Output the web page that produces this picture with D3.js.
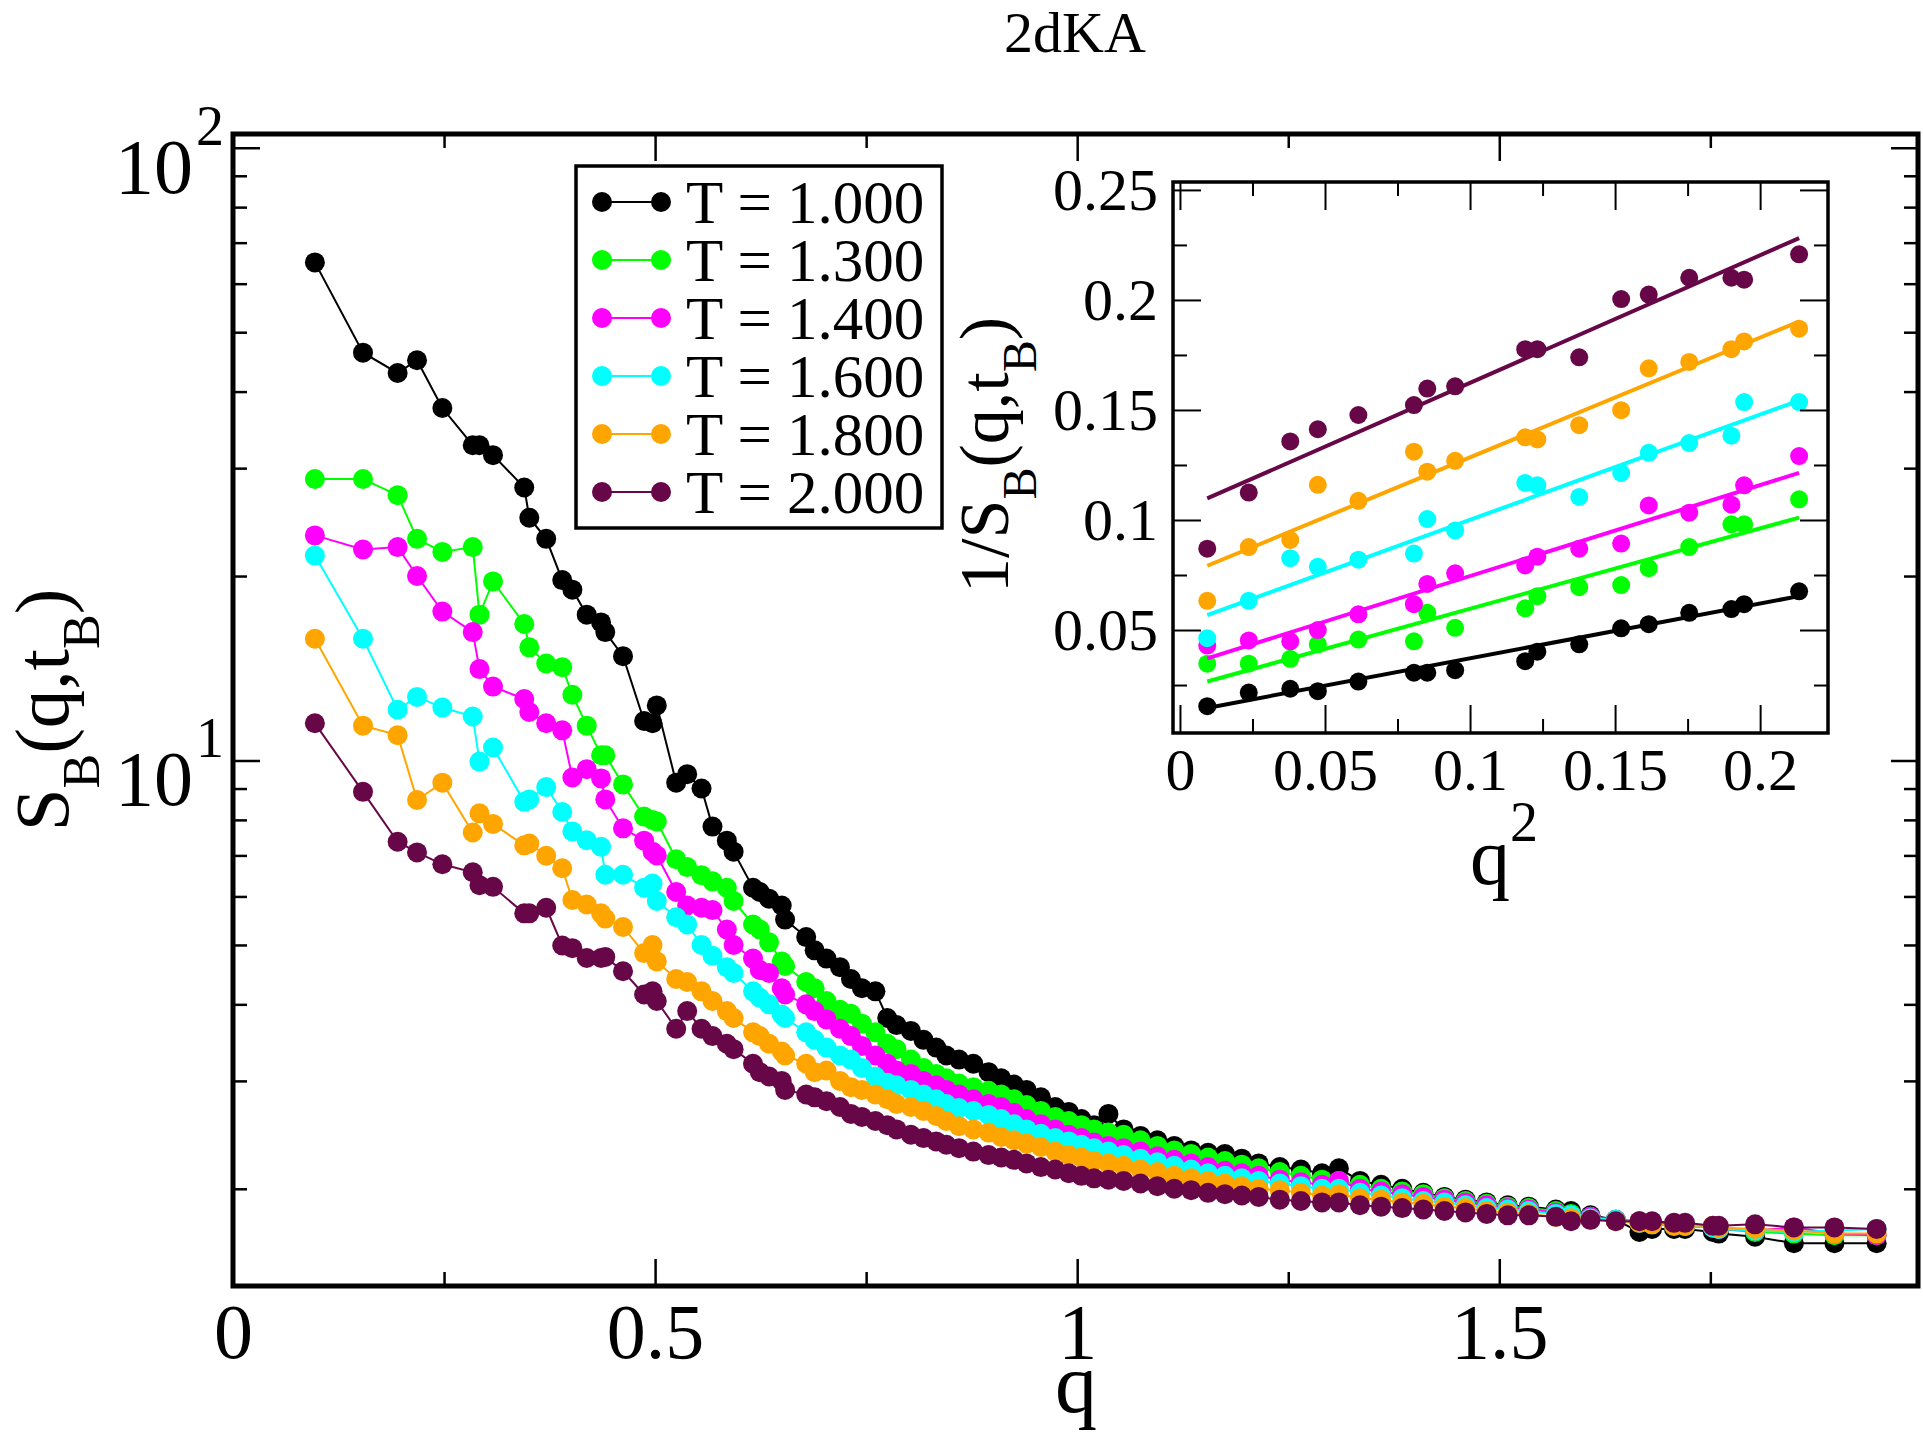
<!DOCTYPE html>
<html lang="en">
<head>
<meta charset="UTF-8">
<title>2dKA</title>
<script src="https://d3js.org/d3.v7.min.js"></script>
<style>
  body { margin: 0; background: #fff; }
  text { font-family: "Liberation Serif", "DejaVu Serif", serif; fill: #000; }
</style>
</head>
<body>
<svg id="chart" width="1923" height="1434"></svg>
<script>
// wave vectors (shared by all temperatures)
const qVals = [
  0.097, 0.154, 0.195, 0.218, 0.248, 0.284, 0.292, 0.308, 0.345, 0.351, 0.371, 0.390, 0.402, 0.419, 0.436, 0.441, 0.462,
  0.487, 0.497, 0.502, 0.525, 0.538, 0.555, 0.568, 0.585, 0.593, 0.616,
  0.624, 0.635, 0.650, 0.654, 0.679, 0.689, 0.703, 0.719, 0.732, 0.745,
  0.761, 0.775, 0.786, 0.803, 0.818, 0.833, 0.845, 0.860, 0.877, 0.895,
  0.910, 0.925, 0.940, 0.957, 0.974, 0.990, 1.005, 1.020, 1.037, 1.055,
  1.075, 1.095, 1.115, 1.135, 1.155, 1.175, 1.195, 1.215, 1.240, 1.265,
  1.290, 1.310, 1.335, 1.360, 1.385, 1.410, 1.435, 1.460, 1.485, 1.510,
  1.535, 1.567, 1.585, 1.608, 1.638, 1.666, 1.681, 1.707, 1.720, 1.753,
  1.760, 1.803, 1.849, 1.897, 1.947
];

const labels = ["T = 1.000", "T = 1.300", "T = 1.400", "T = 1.600", "T = 1.800", "T = 2.000"];
const colors = ["#000000", "#00ff00", "#ff00ff", "#00ffff", "#ffa500", "#670748"];

const sT100 = [
  65.0, 46.3, 42.9, 45.0, 37.6, 32.7, 32.7, 31.5, 27.9, 24.9, 23.0, 19.7, 19.0, 17.3, 16.8, 16.2, 14.8,
  11.6, 11.5, 12.3, 9.2, 9.5, 9.0, 7.8, 7.4, 7.1, 6.2,
  6.1, 5.95, 5.8, 5.5, 5.15, 4.9, 4.75, 4.6, 4.4, 4.25,
  4.2, 3.8, 3.7, 3.62, 3.5, 3.4, 3.3, 3.25, 3.2, 3.1,
  3.03, 2.96, 2.9, 2.82, 2.72, 2.67, 2.6, 2.54, 2.65, 2.5,
  2.44, 2.4, 2.35, 2.31, 2.29, 2.28, 2.24, 2.2, 2.17, 2.15,
  2.12, 2.16, 2.06, 2.03, 2.0, 1.97, 1.94, 1.92, 1.9, 1.88,
  1.87, 1.85, 1.84, 1.81, 1.78, 1.70, 1.72, 1.72, 1.72, 1.70,
  1.69, 1.67, 1.63, 1.63, 1.63
];
const sT130 = [
  28.8, 28.8, 27.1, 23.0, 21.9, 22.3, 17.3, 19.6, 16.7, 15.3, 14.4, 14.2, 12.8, 11.4, 10.2, 10.2, 9.14,
  8.1, 8.0, 7.95, 6.9, 6.7, 6.5, 6.35, 6.2, 5.9, 5.4,
  5.3, 5.05, 4.7, 4.62, 4.35, 4.25, 4.05, 3.92, 3.86, 3.72,
  3.6, 3.45, 3.38, 3.25, 3.15, 3.08, 3.03, 2.97, 2.93, 2.89,
  2.85, 2.8, 2.74, 2.68, 2.62, 2.58, 2.54, 2.5, 2.47, 2.45,
  2.4, 2.35, 2.31, 2.28, 2.25, 2.22, 2.19, 2.16, 2.13, 2.1,
  2.07, 2.06, 2.03, 2.0, 1.98, 1.96, 1.93, 1.91, 1.89, 1.87,
  1.86, 1.84, 1.82, 1.8, 1.78, 1.77, 1.76, 1.75, 1.74, 1.73,
  1.72, 1.7, 1.69, 1.68, 1.68
];
const sT140 = [
  23.3, 22.1, 22.3, 20.0, 17.5, 16.2, 14.1, 13.2, 12.6, 12.0, 11.5, 11.2, 9.38, 9.68, 9.35, 8.64, 7.75,
  7.4, 7.1, 7.0, 6.1, 5.8, 5.75, 5.7, 5.3, 5.0, 4.75,
  4.55, 4.5, 4.25, 4.15, 4.0, 3.9, 3.78, 3.65, 3.55, 3.42,
  3.3, 3.2, 3.12, 3.08, 3.0, 2.95, 2.9, 2.85, 2.8, 2.75,
  2.72, 2.66, 2.6, 2.55, 2.5, 2.45, 2.42, 2.38, 2.35, 2.33,
  2.3, 2.26, 2.23, 2.2, 2.17, 2.14, 2.12, 2.1, 2.07, 2.05,
  2.03, 2.06, 2.0, 1.98, 1.96, 1.94, 1.92, 1.9, 1.88, 1.86,
  1.85, 1.83, 1.81, 1.8, 1.78, 1.77, 1.76, 1.75, 1.74, 1.73,
  1.72, 1.71, 1.73, 1.69, 1.68
];
const sT160 = [
  21.6, 15.8, 12.1, 12.7, 12.2, 11.8, 9.96, 10.5, 8.56, 8.64, 9.05, 8.24, 7.66, 7.41, 7.23, 6.51, 6.51,
  6.2, 6.3, 5.9, 5.55, 5.4, 5.0, 4.8, 4.6, 4.5, 4.2,
  4.1, 4.0, 3.85, 3.8, 3.6, 3.5, 3.4, 3.3, 3.25, 3.15,
  3.05, 2.98, 2.95, 2.9, 2.85, 2.8, 2.75, 2.71, 2.68, 2.64,
  2.6, 2.55, 2.5, 2.46, 2.42, 2.39, 2.36, 2.33, 2.3, 2.27,
  2.24, 2.21, 2.18, 2.15, 2.12, 2.1, 2.08, 2.06, 2.04, 2.02,
  2.0, 2.0, 1.97, 1.95, 1.93, 1.91, 1.9, 1.88, 1.86, 1.85,
  1.84, 1.82, 1.81, 1.79, 1.78, 1.76, 1.75, 1.74, 1.74, 1.73,
  1.72, 1.71, 1.7, 1.71, 1.72
];
const sT180 = [
  15.8, 11.4, 11.0, 8.62, 9.2, 7.63, 8.2, 7.88, 7.27, 7.32, 6.99, 6.67, 5.92, 5.82, 5.63, 5.52, 5.35,
  4.85, 5.0, 4.7, 4.4, 4.35, 4.2, 4.05, 3.9, 3.8, 3.6,
  3.55, 3.45, 3.35, 3.3, 3.2, 3.1, 3.12, 3.0, 2.93, 2.9,
  2.85, 2.8, 2.75, 2.72, 2.68, 2.63, 2.58, 2.53, 2.5, 2.47,
  2.43, 2.4, 2.37, 2.34, 2.3, 2.27, 2.25, 2.22, 2.2, 2.18,
  2.15, 2.13, 2.1, 2.08, 2.06, 2.04, 2.02, 2.0, 1.99, 1.97,
  1.95, 1.96, 1.93, 1.92, 1.9, 1.89, 1.87, 1.86, 1.84, 1.83,
  1.82, 1.8, 1.79, 1.78, 1.77, 1.76, 1.75, 1.74, 1.74, 1.74,
  1.73, 1.72, 1.71, 1.69, 1.69
];
const sT200 = [
  11.5, 8.89, 7.37, 7.08, 6.77, 6.57, 6.26, 6.22, 5.63, 5.63, 5.75, 4.99, 4.94, 4.76, 4.76, 4.78, 4.53,
  4.15, 4.2, 4.05, 3.65, 3.9, 3.65, 3.55, 3.45, 3.38, 3.2,
  3.1, 3.05, 3.0, 2.9, 2.85, 2.82, 2.78, 2.72, 2.65, 2.62,
  2.58, 2.54, 2.5, 2.45, 2.42, 2.39, 2.36, 2.33, 2.3, 2.27,
  2.25, 2.23, 2.2, 2.17, 2.15, 2.12, 2.1, 2.08, 2.07, 2.06,
  2.04, 2.02, 2.0, 1.99, 1.97, 1.96, 1.95, 1.94, 1.92, 1.91,
  1.9, 1.9, 1.88, 1.87, 1.86, 1.85, 1.84, 1.83, 1.82, 1.81,
  1.81, 1.8, 1.77, 1.78, 1.77, 1.77, 1.77, 1.76, 1.76, 1.74,
  1.74, 1.75, 1.73, 1.73, 1.72
];
const series = [sT100, sT130, sT140, sT160, sT180, sT200];

// inset: first 17 points plotted as 1/S vs q^2, with straight-line fits
const nInset = 17;
const fitStart = [0.0146, 0.0266, 0.0371, 0.0568, 0.0792, 0.1098];
const fitEnd = [0.0654, 0.1011, 0.1214, 0.1543, 0.1902, 0.2281];

const xMajor = [0, 0.5, 1, 1.5];
const xMinor = [0.25, 0.75, 1.25, 1.75];
const yMajor = [10, 100];
const yMinor = [2, 3, 4, 5, 6, 7, 8, 9, 20, 30, 40, 50, 60, 70, 80, 90];
const inXMajor = [0, 0.05, 0.1, 0.15, 0.2];
const inXMinor = [0.025, 0.075, 0.125, 0.175];
const inYMajor = [0.05, 0.1, 0.15, 0.2, 0.25];
const inYMinor = [0.025, 0.075, 0.125, 0.175, 0.225];

const svg = d3.select("#chart");

const frame = { left: 233, right: 1918, top: 134, bottom: 1286 };
const x = d3.scaleLinear().domain([0, 1.996]).range([frame.left, frame.right]);
const y = d3.scaleLog().domain([1.388, 105.3]).range([frame.bottom, frame.top]);

const inset = { left: 1173, right: 1828, top: 182, bottom: 733 };
const ix = d3.scaleLinear().domain([-0.0024, 0.2234]).range([inset.left, inset.right]);
const iy = d3.scaleLinear().domain([0.0032, 0.2536]).range([inset.bottom, inset.top]);

function ticks(axisFn, scale, vals, size, tx, ty, width, fmt, fontSize, pad) {
  const a = axisFn(scale).tickValues(vals).tickSizeInner(size).tickSizeOuter(0)
    .tickPadding(pad || 0).tickFormat(fmt || "");
  const g = svg.append("g").attr("transform", `translate(${tx},${ty})`).call(a);
  g.select(".domain").remove();
  g.selectAll("line").attr("stroke", "#000").attr("stroke-width", width);
  g.attr("font-family", null).attr("font-size", fontSize || 10);
  return g;
}

// ---- main plot ----
const lineGen = d3.line().x(d => x(d[0])).y(d => y(d[1]));

series.forEach((vals, i) => {
  const pts = qVals.map((q, k) => [q, vals[k]]);
  svg.append("path").datum(pts)
    .attr("d", lineGen)
    .attr("fill", "none")
    .attr("stroke", colors[i])
    .attr("stroke-width", 2);
  svg.append("g").selectAll("circle").data(pts).join("circle")
    .attr("cx", d => x(d[0]))
    .attr("cy", d => y(d[1]))
    .attr("r", 10)
    .attr("fill", colors[i]);
});

// ticks on all four sides, pointing inward
ticks(d3.axisBottom, x, xMajor, -27, 0, frame.bottom, 2.5, d => String(d), 78, 17);
ticks(d3.axisBottom, x, xMinor, -14, 0, frame.bottom, 2.5);
ticks(d3.axisTop, x, xMajor, -27, 0, frame.top, 2.5);
ticks(d3.axisTop, x, xMinor, -14, 0, frame.top, 2.5);
ticks(d3.axisLeft, y, yMajor, -27, frame.left, 0, 2.5);
ticks(d3.axisLeft, y, yMinor, -14, frame.left, 0, 2.5);
ticks(d3.axisRight, y, yMajor, -27, frame.right, 0, 2.5);
ticks(d3.axisRight, y, yMinor, -14, frame.right, 0, 2.5);

svg.append("rect")
  .attr("x", frame.left).attr("y", frame.top)
  .attr("width", frame.right - frame.left).attr("height", frame.bottom - frame.top)
  .attr("fill", "none").attr("stroke", "#000").attr("stroke-width", 5);

// log labels 10^1, 10^2
yMajor.forEach((v, k) => {
  const yy = y(v);
  svg.append("text").attr("x", 193).attr("y", yy + 45)
    .attr("text-anchor", "end").attr("font-size", 78).text("10");
  svg.append("text").attr("x", 196).attr("y", yy - 3)
    .attr("font-size", 56).text(String(k + 1));
});

svg.append("text").attr("x", 1076).attr("y", 1412)
  .attr("text-anchor", "middle").attr("font-size", 84).text("q");

const yTitle = svg.append("text")
  .attr("transform", "translate(68,710) rotate(-90)")
  .attr("text-anchor", "middle").attr("font-size", 77);
yTitle.append("tspan").text("S");
yTitle.append("tspan").attr("dy", 31).attr("font-size", 52).text("B");
yTitle.append("tspan").attr("dy", -31).text("(q,t");
yTitle.append("tspan").attr("dy", 31).attr("font-size", 52).text("B");
yTitle.append("tspan").attr("dy", -31).text(")");

svg.append("text").attr("x", 1075).attr("y", 52)
  .attr("text-anchor", "middle").attr("font-size", 58).text("2dKA");

// ---- legend ----
const legend = svg.append("g");
legend.append("rect")
  .attr("x", 576).attr("y", 166).attr("width", 366).attr("height", 362)
  .attr("fill", "#fff").attr("stroke", "#000").attr("stroke-width", 3.5);
const rows = legend.selectAll("g.row").data(labels).join("g")
  .attr("class", "row")
  .attr("transform", (d, i) => `translate(0,${202 + i * 58})`);
rows.append("line").attr("x1", 602).attr("x2", 661)
  .attr("stroke", (d, i) => colors[i]).attr("stroke-width", 2);
rows.append("circle").attr("cx", 602).attr("r", 10).attr("fill", (d, i) => colors[i]);
rows.append("circle").attr("cx", 661).attr("r", 10).attr("fill", (d, i) => colors[i]);
rows.append("text").attr("x", 686).attr("y", 21).attr("font-size", 61).text(d => d);

// ---- inset ----
svg.append("rect")
  .attr("x", inset.left).attr("y", inset.top)
  .attr("width", inset.right - inset.left).attr("height", inset.bottom - inset.top)
  .attr("fill", "#fff");

series.forEach((vals, i) => {
  const q2a = qVals[0] * qVals[0];
  const q2b = qVals[nInset - 1] * qVals[nInset - 1];
  svg.append("line")
    .attr("x1", ix(q2a)).attr("y1", iy(fitStart[i]))
    .attr("x2", ix(q2b)).attr("y2", iy(fitEnd[i]))
    .attr("stroke", colors[i]).attr("stroke-width", 4);
  const pts = qVals.slice(0, nInset).map((q, k) => [q * q, 1 / vals[k]]);
  svg.append("g").selectAll("circle").data(pts).join("circle")
    .attr("cx", d => ix(d[0]))
    .attr("cy", d => iy(d[1]))
    .attr("r", 9)
    .attr("fill", colors[i]);
});

ticks(d3.axisBottom, ix, inXMajor, -28, 0, inset.bottom, 2, d => String(d), 60, 14);
ticks(d3.axisBottom, ix, inXMinor, -14, 0, inset.bottom, 2);
ticks(d3.axisTop, ix, inXMajor, -28, 0, inset.top, 2);
ticks(d3.axisTop, ix, inXMinor, -14, 0, inset.top, 2);
ticks(d3.axisLeft, iy, inYMajor, -28, inset.left, 0, 2, d => String(d), 60, 15);
ticks(d3.axisLeft, iy, inYMinor, -14, inset.left, 0, 2);
ticks(d3.axisRight, iy, inYMajor, -28, inset.right, 0, 2);
ticks(d3.axisRight, iy, inYMinor, -14, inset.right, 0, 2);

svg.append("rect")
  .attr("x", inset.left).attr("y", inset.top)
  .attr("width", inset.right - inset.left).attr("height", inset.bottom - inset.top)
  .attr("fill", "none").attr("stroke", "#000").attr("stroke-width", 3.5);

const ixTitle = svg.append("text").attr("x", 1470).attr("y", 884).attr("font-size", 80);
ixTitle.append("tspan").text("q");
ixTitle.append("tspan").attr("dy", -43).attr("font-size", 56).text("2");

const iyTitle = svg.append("text")
  .attr("transform", "translate(1008,455) rotate(-90)")
  .attr("text-anchor", "middle").attr("font-size", 70);
iyTitle.append("tspan").text("1/S");
iyTitle.append("tspan").attr("dy", 28).attr("font-size", 48).text("B");
iyTitle.append("tspan").attr("dy", -28).text("(q,t");
iyTitle.append("tspan").attr("dy", 28).attr("font-size", 48).text("B");
iyTitle.append("tspan").attr("dy", -28).text(")");
</script>
</body>
</html>
